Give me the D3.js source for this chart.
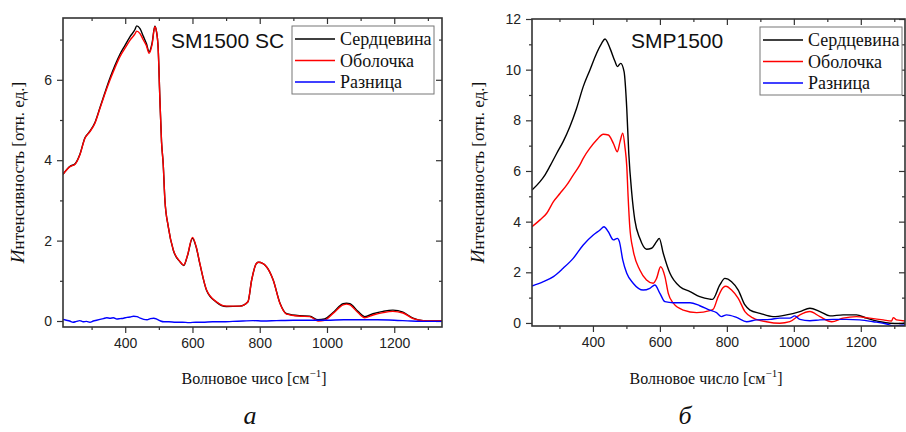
<!DOCTYPE html>
<html>
<head>
<meta charset="utf-8">
<script src="https://cdn.jsdelivr.net/npm/d3@7"></script>
<style>
  html, body { margin: 0; padding: 0; background: #fff; }
  svg { display: block; }
  .tick text { font-family: "Liberation Sans", Arial, sans-serif; font-size: 14px; fill: #222; }
  .serif { font-family: "Liberation Serif", "Times New Roman", serif; fill: #111; }
</style>
</head>
<body>
<svg id="chart" width="906" height="432"></svg>
<script>
// ---- Panel (a): SM1500 SC ----
const wnA = [215, 236, 251, 265, 280, 295, 310, 325, 340, 355, 369, 384, 399, 414, 429, 434, 444, 454, 463, 471, 480, 488, 493, 498, 503, 508, 513, 518, 528, 543, 563, 574, 585, 600, 611, 622, 642, 671, 701, 741, 765, 776, 790, 797, 820, 840, 860, 880, 919, 949, 973, 993, 1018, 1048, 1058, 1068, 1092, 1112, 1137, 1167, 1196, 1226, 1256, 1286, 1342];
const coreA = [3.65, 3.85, 3.91, 4.14, 4.55, 4.72, 4.94, 5.31, 5.69, 6.05, 6.35, 6.63, 6.85, 7.07, 7.25, 7.34, 7.27, 7.08, 6.9, 6.7, 6.92, 7.33, 7.2, 6.78, 5.55, 4.46, 3.9, 3.01, 2.35, 1.76, 1.47, 1.38, 1.62, 2.06, 1.84, 1.42, 0.76, 0.47, 0.36, 0.37, 0.48, 1.02, 1.43, 1.46, 1.35, 1.02, 0.45, 0.18, 0.13, 0.12, 0.03, 0.05, 0.21, 0.43, 0.44, 0.43, 0.24, 0.11, 0.18, 0.24, 0.27, 0.22, 0.07, 0.01, 0.0];
const shellA = [3.65, 3.84, 3.9, 4.13, 4.54, 4.71, 4.92, 5.29, 5.66, 6.0, 6.29, 6.57, 6.78, 6.98, 7.14, 7.21, 7.15, 6.99, 6.85, 6.66, 6.88, 7.32, 7.2, 6.78, 5.55, 4.46, 3.9, 3.01, 2.35, 1.77, 1.48, 1.39, 1.63, 2.08, 1.85, 1.43, 0.77, 0.48, 0.37, 0.37, 0.48, 1.02, 1.43, 1.46, 1.35, 1.02, 0.44, 0.17, 0.12, 0.11, 0.0, 0.02, 0.19, 0.4, 0.42, 0.4, 0.21, 0.08, 0.15, 0.21, 0.24, 0.2, 0.06, 0.01, 0.0];
const wnDiffA = [215, 225, 235, 245, 255, 265, 275, 285, 295, 305, 315, 325, 335, 345, 355, 365, 375, 385, 395, 405, 415, 425, 435, 445, 455, 465, 475, 485, 495, 505, 515, 530, 550, 570, 590, 610, 630, 660, 690, 720, 750, 780, 810, 850, 900, 950, 1000, 1050, 1100, 1150, 1200, 1250, 1300, 1342];
const diffA = [0.04, 0.02, 0.0, -0.03, -0.01, 0.01, -0.02, -0.01, -0.03, 0.0, 0.02, 0.04, 0.06, 0.08, 0.07, 0.08, 0.05, 0.06, 0.07, 0.09, 0.1, 0.12, 0.11, 0.07, 0.04, 0.03, 0.06, 0.07, 0.04, 0.0, -0.02, -0.02, -0.03, -0.03, -0.04, -0.03, -0.03, -0.02, -0.02, -0.01, 0.0, 0.01, 0.0, 0.01, 0.02, 0.02, 0.02, 0.03, 0.03, 0.03, 0.02, 0.0, -0.01, -0.01];

// ---- Panel (б): SMP1500 ----
const wnCoreB = [218, 242, 257, 272, 292, 311, 331, 351, 371, 391, 411, 426, 436, 451, 466, 473, 483, 493, 501, 507, 516, 525, 540, 560, 575, 590, 598, 610, 630, 660, 690, 719, 749, 757, 779, 794, 814, 834, 854, 869, 899, 938, 978, 1018, 1048, 1078, 1108, 1147, 1187, 1217, 1257, 1287, 1317, 1332];
const coreB = [5.25, 5.58, 5.85, 6.2, 6.7, 7.16, 7.75, 8.47, 9.33, 9.99, 10.65, 11.04, 11.21, 10.84, 10.32, 10.12, 10.25, 9.92, 8.47, 6.7, 5.12, 4.07, 3.34, 2.91, 2.95, 3.21, 3.34, 2.75, 1.96, 1.43, 1.24, 1.04, 0.94, 0.93, 1.5, 1.76, 1.63, 1.3, 0.71, 0.51, 0.38, 0.25, 0.32, 0.45, 0.58, 0.45, 0.28, 0.32, 0.32, 0.19, 0.05, -0.01, -0.02, 0.0];
const wnShellB = [218, 242, 262, 282, 302, 322, 341, 361, 371, 391, 411, 431, 446, 461, 473, 481, 489, 496, 501, 505, 510, 520, 540, 560, 580, 590, 602, 615, 625, 640, 670, 710, 749, 759, 774, 789, 797, 814, 834, 854, 879, 918, 958, 988, 1018, 1048, 1078, 1113, 1147, 1187, 1227, 1267, 1292, 1297, 1307, 1332];
const shellB = [3.8, 4.07, 4.33, 4.79, 5.12, 5.45, 5.84, 6.24, 6.5, 6.9, 7.22, 7.45, 7.42, 7.09, 6.76, 7.16, 7.49, 6.9, 6.2, 5.0, 3.8, 2.88, 2.09, 1.7, 1.57, 1.76, 2.22, 1.83, 1.17, 0.78, 0.51, 0.41, 0.49, 0.54, 1.04, 1.4, 1.45, 1.3, 0.97, 0.45, 0.19, 0.05, -0.01, 0.05, 0.32, 0.45, 0.25, 0.05, 0.19, 0.25, 0.19, 0.12, 0.08, 0.21, 0.12, 0.08];
const wnDiffB = [218, 252, 282, 311, 341, 371, 401, 421, 433, 446, 461, 473, 479, 489, 501, 520, 550, 570, 585, 600, 615, 640, 690, 719, 749, 769, 784, 799, 829, 859, 889, 929, 958, 988, 1003, 1018, 1048, 1078, 1117, 1157, 1197, 1237, 1277, 1297, 1317, 1332];
const diffB = [1.46, 1.63, 1.83, 2.16, 2.55, 3.08, 3.47, 3.67, 3.8, 3.6, 3.28, 3.34, 3.21, 2.49, 1.96, 1.57, 1.3, 1.37, 1.5, 1.17, 0.84, 0.8, 0.8, 0.68, 0.51, 0.41, 0.25, 0.32, 0.22, 0.05, 0.12, 0.14, 0.19, 0.19, 0.28, 0.14, 0.09, 0.12, 0.14, 0.14, 0.12, 0.05, -0.04, -0.12, -0.1, -0.08];

// ---- Shared labels ----
const seriesNames = ["Сердцевина", "Оболочка", "Разница"];
const seriesColors = ["#000000", "#ff0000", "#0000ff"];
const xMajorTicks = [400, 600, 800, 1000, 1200];
const xMinorTicks = [300, 500, 700, 900, 1100, 1300];

const svg = d3.select("#chart");

function drawPanel(cfg) {
  const x = d3.scaleLinear().domain(cfg.xDomain).range([cfg.left, cfg.right]);
  const y = d3.scaleLinear().domain(cfg.yDomain).range([cfg.bottom, cfg.top]);
  const g = svg.append("g");

  const clipId = "clip-" + cfg.id;
  svg.append("clipPath").attr("id", clipId)
    .append("rect").attr("x", cfg.left).attr("y", cfg.top)
    .attr("width", cfg.right - cfg.left).attr("height", cfg.bottom - cfg.top);

  // bottom axis: labelled majors and short minors, pointing out
  g.append("g").attr("transform", `translate(0,${cfg.bottom})`)
    .call(d3.axisBottom(x).tickValues(xMajorTicks).tickSize(6).tickPadding(5).tickFormat(d3.format("d")));
  g.append("g").attr("transform", `translate(0,${cfg.bottom})`)
    .call(d3.axisBottom(x).tickValues(xMinorTicks).tickSize(3).tickFormat(""));
  // top axis: mirrored ticks pointing in
  g.append("g").attr("transform", `translate(0,${cfg.top})`)
    .call(d3.axisBottom(x).tickValues(xMajorTicks).tickSize(6).tickFormat(""));
  g.append("g").attr("transform", `translate(0,${cfg.top})`)
    .call(d3.axisBottom(x).tickValues(xMinorTicks).tickSize(3).tickFormat(""));
  // left axis
  g.append("g").attr("transform", `translate(${cfg.left},0)`)
    .call(d3.axisLeft(y).tickValues(cfg.yMajor).tickSize(6).tickPadding(5).tickFormat(d3.format("d")));
  g.append("g").attr("transform", `translate(${cfg.left},0)`)
    .call(d3.axisLeft(y).tickValues(cfg.yMinor).tickSize(3).tickFormat(""));
  // right axis: mirrored ticks pointing in
  g.append("g").attr("transform", `translate(${cfg.right},0)`)
    .call(d3.axisLeft(y).tickValues(cfg.yMajor).tickSize(6).tickFormat(""));
  g.append("g").attr("transform", `translate(${cfg.right},0)`)
    .call(d3.axisLeft(y).tickValues(cfg.yMinor).tickSize(3).tickFormat(""));

  g.selectAll(".domain").remove();
  g.selectAll(".tick line").attr("stroke", "#333").attr("stroke-width", 1.2);

  // spectra, clipped to the frame
  const line = d3.line().x(d => x(d[0])).y(d => y(d[1])).curve(d3.curveMonotoneX);
  const plot = g.append("g").attr("clip-path", `url(#${clipId})`);
  cfg.series.forEach((s, i) => {
    plot.append("path")
      .datum(d3.zip(s.wn, s.values))
      .attr("d", line)
      .attr("fill", "none")
      .attr("stroke", seriesColors[i])
      .attr("stroke-width", 1.4)
      .attr("stroke-linejoin", "round");
  });

  // frame
  g.append("rect")
    .attr("x", cfg.left).attr("y", cfg.top)
    .attr("width", cfg.right - cfg.left).attr("height", cfg.bottom - cfg.top)
    .attr("fill", "none").attr("stroke", "#333").attr("stroke-width", 1.6);

  // sample name
  g.append("text")
    .attr("x", cfg.titleX).attr("y", 48)
    .attr("font-family", "'Liberation Sans', Arial, sans-serif")
    .attr("font-size", 21).attr("fill", "#111")
    .text(cfg.title);

  // legend
  const lg = g.append("g").attr("transform", `translate(${cfg.legendX},${cfg.legendY})`);
  lg.append("rect").attr("x", 0).attr("y", 0).attr("width", 142).attr("height", 68)
    .attr("fill", "#fff").attr("stroke", "#777").attr("stroke-width", 1);
  seriesNames.forEach((name, i) => {
    const yy = 13 + i * 21.5;
    lg.append("line").attr("x1", 3).attr("x2", 43).attr("y1", yy).attr("y2", yy)
      .attr("stroke", seriesColors[i]).attr("stroke-width", 1.4);
    lg.append("text").attr("class", "serif").attr("x", 48).attr("y", yy + 6)
      .attr("font-size", 18).text(name);
  });

  // axis titles
  const yt = g.append("text").attr("class", "serif")
    .attr("transform", `translate(${cfg.yTitleX},${(cfg.top + cfg.bottom) / 2}) rotate(-90)`)
    .attr("text-anchor", "middle").attr("font-size", 17);
  yt.append("tspan").attr("font-style", "italic").attr("font-size", 19).text("И");
  yt.append("tspan").text("нтенсивность [отн. ед.]");

  const xt = g.append("text").attr("class", "serif")
    .attr("x", cfg.xTitleX).attr("y", 384)
    .attr("text-anchor", "middle").attr("font-size", 16);
  xt.append("tspan").text(cfg.xTitle + " [см");
  xt.append("tspan").attr("dy", -7).attr("font-size", 11).text("−1");
  xt.append("tspan").attr("dy", 7).text("]");

  g.append("text").attr("class", "serif")
    .attr("x", cfg.panelX).attr("y", 424)
    .attr("text-anchor", "middle").attr("font-size", 26).attr("font-style", "italic")
    .text(cfg.panel);
}

drawPanel({
  id: "a", left: 63, right: 442, top: 18, bottom: 327,
  xDomain: [215, 1342], yDomain: [-0.149, 7.537],
  yMajor: [0, 2, 4, 6], yMinor: [1, 3, 5, 7],
  series: [
    { wn: wnA, values: coreA },
    { wn: wnA, values: shellA },
    { wn: wnDiffA, values: diffA }
  ],
  title: "SM1500 SC", titleX: 171,
  legendX: 292, legendY: 26,
  yTitleX: 24, xTitle: "Волновое чисо", xTitleX: 254,
  panel: "а", panelX: 250
});

drawPanel({
  id: "b", left: 532, right: 905, top: 19, bottom: 326,
  xDomain: [218, 1332], yDomain: [-0.12, 12],
  yMajor: [0, 2, 4, 6, 8, 10, 12], yMinor: [1, 3, 5, 7, 9, 11],
  series: [
    { wn: wnCoreB, values: coreB },
    { wn: wnShellB, values: shellB },
    { wn: wnDiffB, values: diffB }
  ],
  title: "SMP1500", titleX: 631,
  legendX: 760, legendY: 27,
  yTitleX: 484, xTitle: "Волновое число", xTitleX: 706,
  panel: "б", panelX: 685
});
</script>
</body>
</html>
